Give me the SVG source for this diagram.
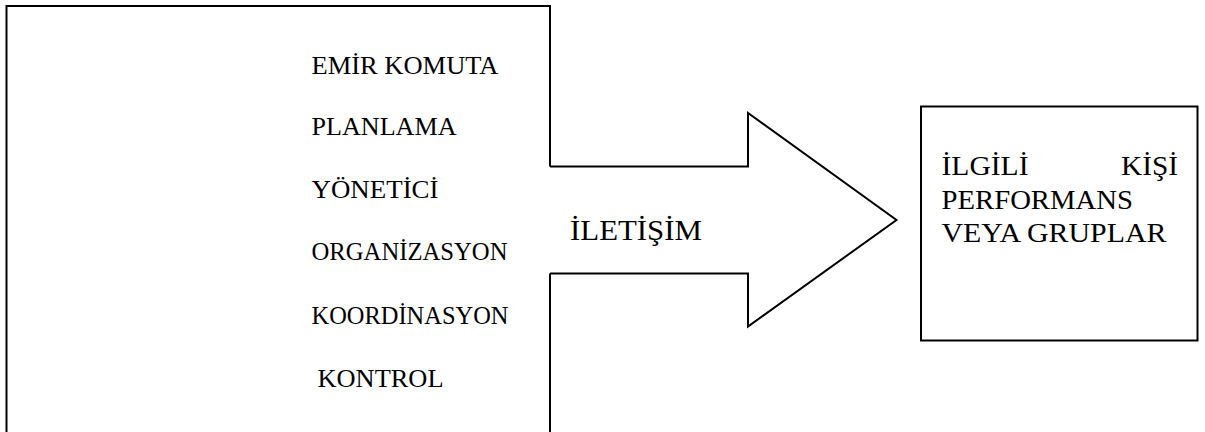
<svg xmlns="http://www.w3.org/2000/svg" width="1205" height="432" viewBox="0 0 1205 432">
  <style>
    .line { fill: none; stroke: #000; stroke-width: 2; stroke-linejoin: miter; }
    .lbl { font-family: "Liberation Serif", "Times New Roman", serif; font-size: 26px; fill: #000; }
    .big { font-size: 30px; }
    .box { font-size: 28px; }
  </style>
  <rect width="1205" height="432" fill="#fff"/>

  <!-- management functions frame -->
  <g id="functions">
    <path class="line" d="M6.5,432 V6 H550 V166.5 M550,273.5 V432"/>
    <text class="lbl" x="311.5" y="73.5" textLength="187" lengthAdjust="spacingAndGlyphs">EMİR KOMUTA</text>
    <text class="lbl" x="311.5" y="135" textLength="145" lengthAdjust="spacingAndGlyphs">PLANLAMA</text>
    <text class="lbl" x="311.5" y="197.5" textLength="127" lengthAdjust="spacingAndGlyphs">YÖNETİCİ</text>
    <text class="lbl" x="311.5" y="260" textLength="196" lengthAdjust="spacingAndGlyphs">ORGANİZASYON</text>
    <text class="lbl" x="311.5" y="324" textLength="197" lengthAdjust="spacingAndGlyphs">KOORDİNASYON</text>
    <text class="lbl" x="317.5" y="386.5" textLength="126" lengthAdjust="spacingAndGlyphs">KONTROL</text>
  </g>

  <!-- communication arrow -->
  <g id="connectors">
    <path class="line" d="M550,166.5 H748 V113 L896.5,220 L748,326.5 V273.5 H550"/>
    <text class="lbl big" x="570" y="240" textLength="132" lengthAdjust="spacingAndGlyphs">İLETİŞİM</text>
  </g>

  <!-- receiving side -->
  <g id="recipients">
    <rect class="line" x="921" y="106.5" width="276.5" height="234"/>
    <text class="lbl box" x="941.5" y="175" textLength="87" lengthAdjust="spacingAndGlyphs">İLGİLİ</text>
    <text class="lbl box" x="1121" y="175" textLength="57" lengthAdjust="spacingAndGlyphs">KİŞİ</text>
    <text class="lbl box" x="941.5" y="208.5" textLength="191.5" lengthAdjust="spacingAndGlyphs">PERFORMANS</text>
    <text class="lbl box" x="941.5" y="241.5" textLength="225" lengthAdjust="spacingAndGlyphs">VEYA GRUPLAR</text>
  </g>
</svg>
